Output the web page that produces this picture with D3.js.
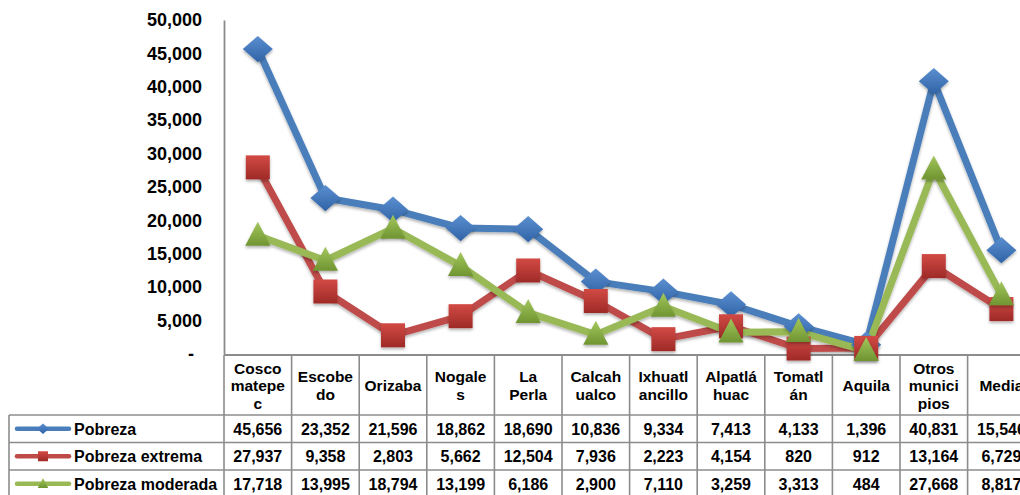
<!DOCTYPE html>
<html><head><meta charset="utf-8">
<script src="https://cdn.jsdelivr.net/npm/d3@7"></script>
<style>
body{margin:0;background:#fff;}
svg{display:block;font-family:"Liberation Sans",Arial,sans-serif;font-weight:bold;}
</style></head>
<body><svg id="c" width="1020" height="495"></svg>
<script>
const categories = ["Cosco\nmatepe\nc","Escobe\ndo","Orizaba","Nogale\ns","La\nPerla","Calcah\nualco","Ixhuatl\nancillo","Alpatlá\nhuac","Tomatl\nán","Aquila","Otros\nmunici\npios","Media"];
const seriesNames = ["Pobreza","Pobreza extrema","Pobreza moderada"];
const pobreza = [45656,23352,21596,18862,18690,10836,9334,7413,4133,1396,40831,15546];
const pobrezaExtrema = [27937,9358,2803,5662,12504,7936,2223,4154,820,912,13164,6729];
const pobrezaModerada = [17718,13995,18794,13199,6186,2900,7110,3259,3313,484,27668,8817];
const yTicks = [0,5000,10000,15000,20000,25000,30000,35000,40000,45000,50000];

const series = [
  {name:seriesNames[0], values:pobreza, line:"#4a7ebb", top:"#5b8fd0", bot:"#2f63a6", shape:"diamond"},
  {name:seriesNames[1], values:pobrezaExtrema, line:"#be4b48", top:"#d24a45", bot:"#9e2a27", shape:"square"},
  {name:seriesNames[2], values:pobrezaModerada, line:"#98b954", top:"#a3c75c", bot:"#6f9431", shape:"triangle"}
];

const svg = d3.select("#c");
const plotL = 224, plotT = 20, plotB = 354, colW = 67.6;
const x = d3.scaleBand().domain(d3.range(categories.length)).range([plotL, plotL + colW*categories.length]);
const y = d3.scaleLinear().domain([0,50000]).range([plotB, plotT]);
const grid = "#8c8c8c";

const defs = svg.append("defs");
const f = defs.append("filter").attr("id","sh").attr("x","-30%").attr("y","-30%").attr("width","160%").attr("height","160%");
f.append("feDropShadow").attr("dx",0).attr("dy",2).attr("stdDeviation",1.8).attr("flood-color","#000").attr("flood-opacity",0.3);
const gf = defs.append("filter").attr("id","gsh").attr("x","-5%").attr("y","-200%").attr("width","110%").attr("height","500%");
gf.append("feDropShadow").attr("dx",0).attr("dy",1.5).attr("stdDeviation",1).attr("flood-color","#000").attr("flood-opacity",0.25);
series.forEach((s,i)=>{
  const lg = defs.append("linearGradient").attr("id","g"+i).attr("x1",0).attr("y1",0).attr("x2",0).attr("y2",1);
  lg.append("stop").attr("offset","0%").attr("stop-color",s.top);
  lg.append("stop").attr("offset","100%").attr("stop-color",s.bot);
});

// gridlines
svg.append("g").selectAll("line").data(yTicks.filter(d=>d>0)).join("line")
  .attr("x1",plotL).attr("x2",1020).attr("y1",d=>y(d)).attr("y2",d=>y(d))
  .attr("stroke",grid).attr("stroke-width",1.6).attr("filter","url(#gsh)");

// y axis
const yAxis = d3.axisLeft(y).tickValues(yTicks).tickSize(0).tickPadding(22)
  .tickFormat(d => d===0 ? "-" : d3.format(",")(d));
const ya = svg.append("g").attr("transform",`translate(${plotL},0)`).call(yAxis);
ya.select(".domain").attr("stroke",grid).attr("stroke-width",1.8);
ya.selectAll("text").attr("font-size",18).attr("font-weight","bold").attr("fill","#000")
  .attr("font-family","'Liberation Sans',Arial,sans-serif")
  .attr("dx", d=> d===0 ? -8 : 0);

// table
const tableTop = 355, headB = 415, rowH = 27.5, legL = 9;
const tg = svg.append("g");
const tableR = plotL + colW*categories.length;
tg.append("line").attr("x1",plotL).attr("x2",tableR).attr("y1",tableTop).attr("y2",tableTop).attr("stroke",grid).attr("stroke-width",1.8);
d3.range(4).forEach(i=>{
  tg.append("line").attr("x1",legL).attr("x2",tableR).attr("y1",headB+i*rowH).attr("y2",headB+i*rowH).attr("stroke",grid).attr("stroke-width",1.6);
});
tg.append("line").attr("x1",legL).attr("x2",legL).attr("y1",headB).attr("y2",495).attr("stroke",grid).attr("stroke-width",1.6);
d3.range(categories.length+1).forEach(i=>{
  const xx = plotL + i*colW;
  tg.append("line").attr("x1",xx).attr("x2",xx).attr("y1",tableTop).attr("y2",495).attr("stroke",grid).attr("stroke-width",1.6);
});
categories.forEach((c,i)=>{
  const lines = c.split("\n");
  const cx = x(i)+x.bandwidth()/2;
  const lh = 17.5, mid = 391;
  const t = tg.append("text").attr("text-anchor","middle").attr("font-size",15.5).attr("fill","#000");
  lines.forEach((l,j)=>{
    t.append("tspan").attr("x",cx).attr("y", mid - (lines.length-1)*lh/2 + j*lh).text(l);
  });
});
series.forEach((s,si)=>{
  const ry = headB + si*rowH + rowH/2 + 6;
  s.values.forEach((v,i)=>{
    tg.append("text").attr("x",x(i)+x.bandwidth()/2).attr("y",ry).attr("text-anchor","middle")
      .attr("font-size",16).attr("fill","#000").text(d3.format(",")(v));
  });
  const ly = headB + si*rowH + rowH/2;
  tg.append("line").attr("x1",17).attr("x2",69).attr("y1",ly).attr("y2",ly).attr("stroke",s.line).attr("stroke-width",4.5).attr("stroke-linecap","round");
  tg.append("path").attr("d",shapePath(s.shape,5)).attr("transform",`translate(43,${ly})`).attr("fill",`url(#g${si})`);
  tg.append("text").attr("x",74).attr("y",ry).attr("font-size",16).attr("fill","#000").text(s.name);
});

function shapePath(shape, r){
  if(shape==="diamond") return `M0,${-r*1.05}L${r*1.2},0L0,${r*1.05}L${-r*1.2},0Z`;
  if(shape==="square") return `M${-r},${-r}H${r}V${r}H${-r}Z`;
  return `M0,${-r*1.15}L${r*1.05},${r*0.85}L${-r*1.05},${r*0.85}Z`;
}

const cx = i => x(i)+x.bandwidth()/2;
const lineGen = d3.line().x((d,i)=>cx(i)).y(d=>y(d));
const lg = svg.append("g");
series.forEach((s,si)=>{
  lg.append("path").datum(s.values).attr("d",lineGen).attr("fill","none")
    .attr("stroke",s.line).attr("stroke-width",7).attr("stroke-linejoin","round").attr("filter","url(#sh)");
});
series.forEach((s,si)=>{
  const r = s.shape==="square" ? 12 : (s.shape==="diamond" ? 12.5 : 12);
  lg.append("g").selectAll("path").data(s.values).join("path")
    .attr("d",shapePath(s.shape,r))
    .attr("transform",(d,i)=>`translate(${cx(i)},${y(d)})`)
    .attr("fill",`url(#g${si})`).attr("filter","url(#sh)");
});
</script></body></html>
